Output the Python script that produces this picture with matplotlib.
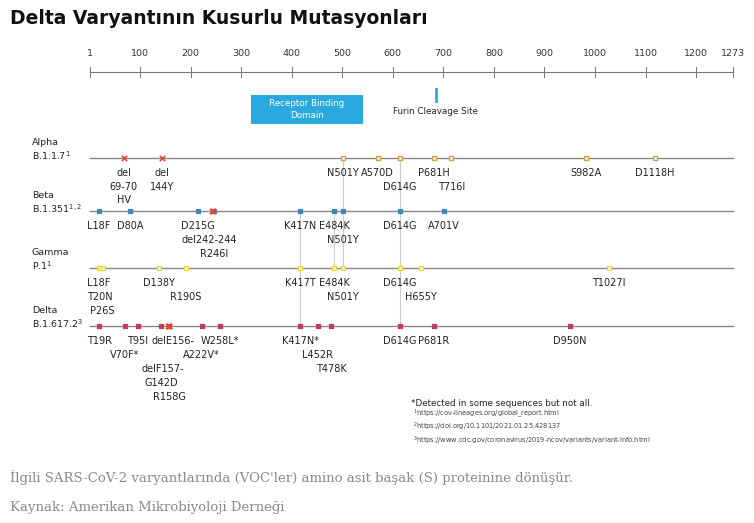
import matplotlib.pyplot as plt

# protein axis ticks
tick_pos = [1, 100, 200, 300, 400, 500, 600, 700, 800, 900, 1000, 1100, 1200, 1273]

# variant rows: name, lineage, y-pixel, colour
variants = ['Alpha', 'Beta', 'Gamma', 'Delta']
lineages = ['B.1.1.7$^{1}$', 'B.1.351$^{1,2}$', 'P.1$^{1}$', 'B.1.617.2$^{3}$']
row_y = [158, 211, 268, 326]
colors = ['#e0973f', '#3d8bb5', '#e3dc2a', '#c23a5e']
filled = [False, True, False, True]

# mutations: (label, position, label line)
alpha_mut = [('N501Y', 501, 0), ('A570D', 570, 0), ('D614G', 614, 1), ('P681H', 681, 0),
             ('T716I', 716, 1), ('S982A', 982, 0), ('D1118H', 1118, 0)]
alpha_del = [('del\n69-70\nHV', 68, 0), ('del\n144Y', 144, 0)]
beta_mut = [('L18F', 18, 0), ('D80A', 80, 0), ('D215G', 215, 0), ('R246I', 246, 2),
            ('K417N', 417, 0), ('E484K', 484, 0), ('N501Y', 501, 1), ('D614G', 614, 0),
            ('A701V', 701, 0)]
beta_del = [('del242-244', 236, 1)]
gamma_mut = [('L18F', 18, 0), ('T20N', 20, 1), ('P26S', 26, 2), ('D138Y', 138, 0),
             ('R190S', 190, 1), ('K417T', 417, 0), ('E484K', 484, 0), ('N501Y', 501, 1),
             ('D614G', 614, 0), ('H655Y', 655, 1), ('T1027I', 1027, 0)]
gamma_del = []
delta_mut = [('T19R', 19, 0), ('V70F*', 70, 1), ('T95I', 95, 0), ('G142D', 142, 3),
             ('R158G', 158, 4), ('A222V*', 222, 1), ('W258L*', 258, 0), ('K417N*', 417, 0),
             ('L452R', 452, 1), ('T478K', 478, 2), ('D614G', 614, 0), ('P681R', 681, 0),
             ('D950N', 950, 0)]
delta_del = [('delE156-', 165, 0), ('delF157-', 146, 2)]
all_mut = [alpha_mut, beta_mut, gamma_mut, delta_mut]
all_del = [alpha_del, beta_del, gamma_del, delta_del]
del_marks = [[69, 144], [242, 244], [], [156, 157, 158]]

# shared sites connected across rows: position, first row, last row
links = [(501, 0, 2), (614, 0, 3), (417, 1, 3), (484, 1, 2)]

W, H = 754, 523
scale = 0.5055
x0 = 90
fig = plt.figure(figsize=(W / 100, H / 100), dpi=100)
ax = fig.add_axes([0, 0, 1, 1])
ax.set_xlim(1 - x0 / scale, 1 + (W - x0) / scale)
ax.set_ylim(H, 0)
ax.axis('off')


def px(x):
    # pixel column -> residue coordinate
    return 1 + (x - x0) / scale


fig.text(10 / W, 1 - 18 / H, 'Delta Varyantının Kusurlu Mutasyonları', fontsize=13.5,
         fontweight='bold', va='center', color='#111111')

# scale bar
ax.plot([1, 1273], [72, 72], color='#777777', lw=0.8)
for t in tick_pos:
    ax.plot([t, t], [67, 77], color='#777777', lw=0.7)
    ax.text(t, 53, str(t), ha='center', va='center', fontsize=6.8, color='#333333')

ax.add_patch(plt.Rectangle((319, 95), 222, 29, color='#2aa9e0', lw=0))
ax.text(430, 109.5, 'Receptor Binding\nDomain', ha='center', va='center', fontsize=6.3,
        color='white', linespacing=1.3)
ax.plot([685, 685], [89, 101], color='#2aa9e0', lw=2)
ax.text(685, 111, 'Furin Cleavage Site', ha='center', va='center', fontsize=6.3, color='#222222')

for pos, r0, r1 in links:
    ax.plot([pos, pos], [row_y[r0], row_y[r1]], color='#cccccc', lw=0.8, zorder=1)

line_h = 14
for i in range(4):
    y = row_y[i]
    ax.plot([1, 1273], [y, y], color='#888888', lw=1, zorder=2)
    ax.text(px(32), y - 8, variants[i] + '\n' + lineages[i],
            ha='left', va='center', fontsize=6.8, color='#222222', linespacing=1.3)
    xs = [m[1] for m in all_mut[i]]
    ax.scatter(xs, [y] * len(xs), marker='s', s=12,
               facecolor=colors[i] if filled[i] else '#fff6d0',
               edgecolor=colors[i], lw=0.9, zorder=3)
    if del_marks[i]:
        ax.scatter(del_marks[i], [y] * len(del_marks[i]), marker='x', s=14,
                   color='#e8452c', lw=1.2, zorder=4)
    for lab, pos, ln in all_mut[i] + all_del[i]:
        ax.text(pos, y + 10 + ln * line_h, lab, ha='center', va='top', fontsize=7,
                color='#222222', linespacing=1.45)

ax.text(px(411), 403, '*Detected in some sequences but not all.', fontsize=6.3,
        va='center', color='#222222')
ax.text(px(413), 427, '$^1$https://cov-lineages.org/global_report.html\n'
        '$^2$https://doi.org/10.1101/2021.01.25.428137\n'
        '$^3$https://www.cdc.gov/coronavirus/2019-ncov/variants/variant-info.html',
        fontsize=4.8, va='center', color='#444444', linespacing=1.1)

for yy, s in [(478, "İlgili SARS-CoV-2 varyantlarında (VOC'ler) amino asit başak (S) proteinine dönüşür."),
              (507, 'Kaynak: Amerikan Mikrobiyoloji Derneği')]:
    fig.text(10 / W, 1 - yy / H, s, fontsize=9.5, family='DejaVu Serif', color='#8a8a8a',
             va='center')

fig.savefig('out.png', dpi=100)
